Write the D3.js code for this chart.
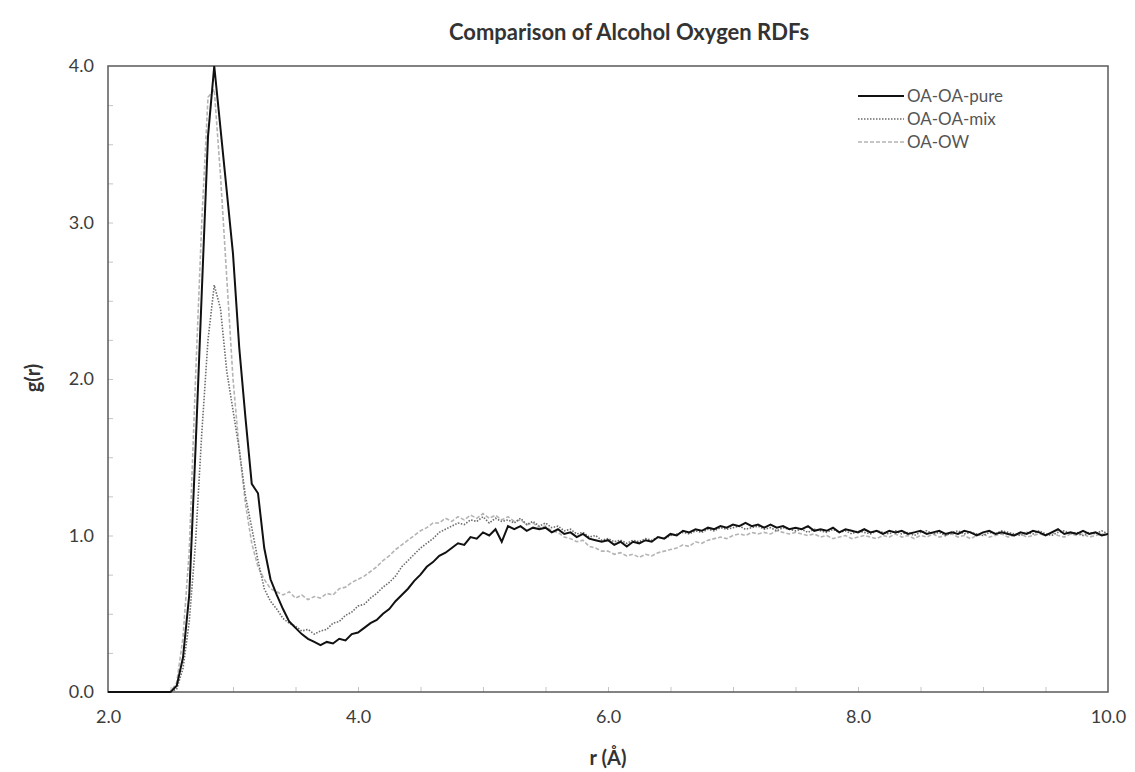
<!DOCTYPE html>
<html>
<head>
<meta charset="utf-8">
<script src="https://cdn.jsdelivr.net/npm/d3@7"></script>
<style>
  body { margin: 0; background: #fff; }
  text { font-family: Lato, "Open Sans", sans-serif; }
</style>
</head>
<body>
<div id="chart"></div>
<script>
// r grid (Angstrom)
var rValues = [
  2.00,2.05,2.10,2.15,2.20,2.25,2.30,2.35,2.40,2.45,
  2.50,2.55,2.60,2.65,2.70,2.75,2.80,2.85,2.90,2.95,
  3.00,3.05,3.10,3.15,3.20,3.25,3.30,3.35,3.40,3.45,
  3.50,3.55,3.60,3.65,3.70,3.75,3.80,3.85,3.90,3.95,
  4.00,4.05,4.10,4.15,4.20,4.25,4.30,4.35,4.40,4.45,
  4.50,4.55,4.60,4.65,4.70,4.75,4.80,4.85,4.90,4.95,
  5.00,5.05,5.10,5.15,5.20,5.25,5.30,5.35,5.40,5.45,
  5.50,5.55,5.60,5.65,5.70,5.75,5.80,5.85,5.90,5.95,
  6.00,6.05,6.10,6.15,6.20,6.25,6.30,6.35,6.40,6.45,
  6.50,6.55,6.60,6.65,6.70,6.75,6.80,6.85,6.90,6.95,
  7.00,7.05,7.10,7.15,7.20,7.25,7.30,7.35,7.40,7.45,
  7.50,7.55,7.60,7.65,7.70,7.75,7.80,7.85,7.90,7.95,
  8.00,8.05,8.10,8.15,8.20,8.25,8.30,8.35,8.40,8.45,
  8.50,8.55,8.60,8.65,8.70,8.75,8.80,8.85,8.90,8.95,
  9.00,9.05,9.10,9.15,9.20,9.25,9.30,9.35,9.40,9.45,
  9.50,9.55,9.60,9.65,9.70,9.75,9.80,9.85,9.90,9.95,
  10.00
];

var gPure = [
  0,0,0,0,0,0,0,0,0,0,
  0.00,0.04,0.22,0.62,1.55,2.55,3.55,4.00,3.60,3.20,
  2.80,2.20,1.75,1.33,1.27,0.92,0.72,0.62,0.53,0.45,
  0.41,0.37,0.34,0.32,0.30,0.32,0.31,0.34,0.33,0.37,
  0.38,0.41,0.44,0.46,0.50,0.53,0.58,0.62,0.66,0.71,
  0.75,0.80,0.83,0.87,0.89,0.92,0.95,0.94,0.99,0.98,
  1.02,1.00,1.04,0.96,1.06,1.04,1.06,1.03,1.05,1.04,
  1.05,1.02,1.04,1.01,1.02,0.99,1.01,0.98,0.97,0.96,
  0.97,0.94,0.96,0.93,0.96,0.95,0.97,0.96,0.99,0.98,
  1.01,1.00,1.03,1.02,1.04,1.03,1.05,1.04,1.06,1.05,
  1.07,1.06,1.08,1.06,1.07,1.05,1.07,1.05,1.06,1.04,
  1.05,1.04,1.06,1.03,1.04,1.03,1.05,1.02,1.04,1.03,
  1.02,1.04,1.02,1.03,1.01,1.03,1.02,1.03,1.01,1.02,
  1.03,1.01,1.02,1.03,1.01,1.02,1.01,1.03,1.02,1.00,
  1.02,1.03,1.01,1.02,1.01,1.00,1.02,1.01,1.03,1.02,
  1.00,1.02,1.04,1.01,1.02,1.01,1.03,1.01,1.02,1.00,
  1.01
];

var gMix = [
  0,0,0,0,0,0,0,0,0,0,
  0.00,0.02,0.15,0.45,0.95,1.65,2.25,2.60,2.45,2.05,
  1.80,1.55,1.25,1.05,0.84,0.66,0.58,0.53,0.47,0.44,
  0.42,0.39,0.40,0.37,0.39,0.40,0.44,0.45,0.49,0.51,
  0.55,0.56,0.60,0.63,0.67,0.70,0.74,0.80,0.84,0.88,
  0.92,0.95,0.98,1.02,1.04,1.06,1.08,1.07,1.10,1.09,
  1.12,1.08,1.11,1.09,1.10,1.08,1.11,1.07,1.09,1.06,
  1.08,1.05,1.06,1.03,1.04,1.01,1.02,0.99,1.00,0.97,
  0.98,0.96,0.97,0.95,0.97,0.96,0.98,0.97,0.99,0.98,
  1.00,1.01,1.02,1.01,1.03,1.02,1.04,1.03,1.05,1.04,
  1.05,1.06,1.04,1.05,1.06,1.04,1.05,1.03,1.05,1.04,
  1.03,1.04,1.02,1.04,1.03,1.02,1.04,1.02,1.03,1.01,
  1.03,1.02,1.01,1.03,1.02,1.01,1.03,1.01,1.02,1.00,
  1.02,1.03,1.01,1.02,1.00,1.02,1.03,1.01,1.02,1.01,
  1.00,1.02,1.01,1.03,1.02,1.01,1.00,1.02,1.01,1.03,
  1.01,1.00,1.02,1.03,1.01,1.02,1.00,1.02,1.01,1.03,
  1.01
];

var gOW = [
  0,0,0,0,0,0,0,0,0,0,
  0.00,0.06,0.35,0.90,2.00,3.00,3.80,3.85,3.30,2.65,
  2.00,1.55,1.20,0.95,0.80,0.72,0.66,0.64,0.62,0.64,
  0.60,0.62,0.59,0.61,0.60,0.63,0.62,0.66,0.67,0.70,
  0.72,0.74,0.77,0.80,0.84,0.87,0.91,0.94,0.97,1.00,
  1.03,1.05,1.08,1.08,1.11,1.09,1.12,1.10,1.13,1.11,
  1.14,1.11,1.13,1.10,1.12,1.09,1.10,1.07,1.08,1.05,
  1.06,1.03,1.02,0.99,0.98,0.96,0.97,0.93,0.92,0.90,
  0.90,0.88,0.89,0.87,0.88,0.86,0.88,0.87,0.89,0.90,
  0.91,0.92,0.94,0.93,0.96,0.95,0.97,0.98,0.99,0.98,
  1.00,1.01,1.00,1.02,1.01,1.02,1.01,1.03,1.02,1.01,
  1.02,1.01,1.00,1.01,0.99,1.00,0.98,0.99,1.00,0.98,
  0.99,1.00,0.99,0.98,1.00,0.99,1.01,0.99,1.00,0.98,
  1.00,0.99,1.01,0.99,1.00,1.01,0.99,1.00,0.98,1.00,
  1.01,0.99,1.00,1.01,0.99,1.00,1.01,0.99,1.00,1.01,
  1.00,1.02,1.00,0.99,1.01,1.00,1.01,0.99,1.00,1.01,
  1.00
];

var seriesNames = ["OA-OA-pure", "OA-OA-mix", "OA-OW"];
var xTicks = [2, 4, 6, 8, 10];
var yTicks = [0, 1, 2, 3, 4];

var svgWidth = 1135;
var svgHeight = 772;
var margin = { top: 66, right: 27, bottom: 80, left: 108 };
var width = svgWidth - margin.left - margin.right;
var height = svgHeight - margin.top - margin.bottom;

var svg = d3.select("#chart")
  .append("svg")
  .attr("width", svgWidth)
  .attr("height", svgHeight);

var chartGroup = svg.append("g")
  .attr("transform", `translate(${margin.left}, ${margin.top})`);

var xScale = d3.scaleLinear().domain([2, 10]).range([0, width]);
var yScale = d3.scaleLinear().domain([0, 4]).range([height, 0]);

// minor ticks (inside)
var xMinor = d3.axisBottom(xScale).tickValues(d3.range(2.5, 10, 0.5)).tickSize(-5).tickFormat("");
var yMinor = d3.axisLeft(yScale).tickValues(d3.range(0.25, 4, 0.25)).tickSize(-5).tickFormat("");

chartGroup.append("g")
  .attr("transform", `translate(0, ${height})`)
  .call(xMinor)
  .call(g => g.select(".domain").remove())
  .selectAll("line").attr("stroke", "#c4c4c4");

chartGroup.append("g")
  .call(yMinor)
  .call(g => g.select(".domain").remove())
  .selectAll("line").attr("stroke", "#c4c4c4");

// plot frame
chartGroup.append("rect")
  .attr("width", width)
  .attr("height", height)
  .attr("fill", "none")
  .attr("stroke", "#5a5a5a")
  .attr("stroke-width", 1.5);

// tick labels
var bottomAxis = d3.axisBottom(xScale).tickValues(xTicks).tickSize(0).tickPadding(18).tickFormat(d3.format(".1f"));
var leftAxis = d3.axisLeft(yScale).tickValues(yTicks).tickSize(0).tickPadding(14).tickFormat(d3.format(".1f"));

chartGroup.append("g")
  .attr("transform", `translate(0, ${height})`)
  .call(bottomAxis)
  .call(g => g.select(".domain").remove())
  .selectAll("text")
  .style("font-family", "Lato, sans-serif")
  .style("font-size", "18px")
  .attr("fill", "#3c3c3c");

chartGroup.append("g")
  .call(leftAxis)
  .call(g => g.select(".domain").remove())
  .selectAll("text")
  .style("font-family", "Lato, sans-serif")
  .style("font-size", "18px")
  .attr("fill", "#3c3c3c");

// curves
var lineGen = d3.line()
  .x((d, i) => xScale(rValues[i]))
  .y(d => yScale(d));

chartGroup.append("path")
  .datum(gOW)
  .attr("d", lineGen)
  .attr("fill", "none")
  .attr("stroke", "#b4b4b4")
  .attr("stroke-width", 1.6)
  .attr("stroke-dasharray", "4,2");

chartGroup.append("path")
  .datum(gMix)
  .attr("d", lineGen)
  .attr("fill", "none")
  .attr("stroke", "#6c6c6c")
  .attr("stroke-width", 1.6)
  .attr("stroke-dasharray", "1.5,1.5");

chartGroup.append("path")
  .datum(gPure)
  .attr("d", lineGen)
  .attr("fill", "none")
  .attr("stroke", "#111")
  .attr("stroke-width", 2);

// legend
var legendStyles = [
  { stroke: "#111", dash: null, w: 2 },
  { stroke: "#6c6c6c", dash: "1.5,1.5", w: 1.6 },
  { stroke: "#b4b4b4", dash: "4,2", w: 1.6 }
];
var legend = svg.append("g").attr("transform", "translate(858, 96)");
seriesNames.forEach(function(name, i) {
  var row = legend.append("g").attr("transform", `translate(0, ${i * 23})`);
  row.append("line")
    .attr("x1", 0).attr("x2", 46)
    .attr("stroke", legendStyles[i].stroke)
    .attr("stroke-width", legendStyles[i].w)
    .attr("stroke-dasharray", legendStyles[i].dash);
  row.append("text")
    .attr("x", 49)
    .attr("dy", "0.35em")
    .style("font-size", "17px")
    .attr("fill", "#555")
    .text(name);
});

// title and axis labels
svg.append("text")
  .attr("x", 629)
  .attr("y", 40)
  .attr("text-anchor", "middle")
  .style("font-size", "22px")
  .style("font-weight", "bold")
  .attr("fill", "#333")
  .text("Comparison of Alcohol Oxygen RDFs");

svg.append("text")
  .attr("x", margin.left + width / 2)
  .attr("y", 765)
  .attr("text-anchor", "middle")
  .style("font-size", "20px")
  .style("font-weight", "bold")
  .attr("fill", "#333")
  .text("r (Å)");

svg.append("text")
  .attr("transform", "rotate(-90)")
  .attr("x", -378)
  .attr("y", 40)
  .attr("text-anchor", "middle")
  .style("font-size", "20px")
  .style("font-weight", "bold")
  .attr("fill", "#333")
  .text("g(r)");
</script>
</body>
</html>
